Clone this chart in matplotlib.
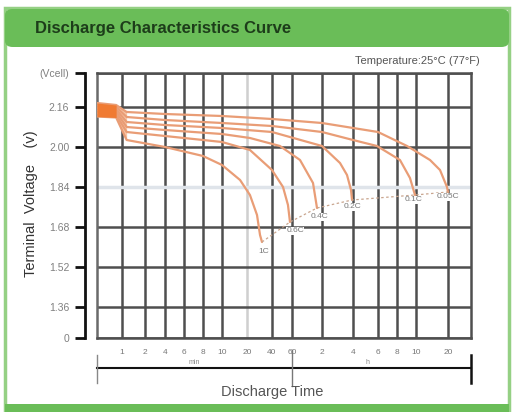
import numpy as np
import matplotlib
matplotlib.use("Agg")
import matplotlib.pyplot as plt
from matplotlib.patches import FancyBboxPatch, Rectangle
import matplotlib.transforms as mtransforms

plt.rcParams['font.family'] = ['Liberation Sans', 'DejaVu Sans']

# ---------------- data ----------------
title = "Discharge Characteristics Curve"
temperature_note = "Temperature:25\u00b0C (77\u00b0F)"
y_axis_label = "Terminal  Voltage    (v)"
x_axis_label = "Discharge Time"

# x ticks (minutes)
x_tick_times = [1, 2, 4, 6, 8, 10, 20, 40, 60, 120, 240, 360, 480, 600, 1200]
x_tick_labels = ["1", "2", "4", "6", "8", "10", "20", "40", "60",
                 "2", "4", "6", "8", "10", "20"]
unit_labels = ["min", "h"]

# y ticks (V per cell; bottom "0" is a broken-axis marker)
y_tick_values = [1.236, 1.36, 1.52, 1.68, 1.84, 2.00, 2.16, 2.296]
y_tick_labels = ["0", "1.36", "1.52", "1.68", "1.84", "2.00", "2.16", "(Vcell)"]

rate_labels = ["1C", "0.6C", "0.4C", "0.2C", "0.1C", "0.05C"]

t_1c = [0.5, 0.85, 1.15, 4, 8, 10, 16.5, 21.7, 26.4, 28.7, 30.3]
v_1c = [2.122, 2.118, 2.028, 2.000, 1.964, 1.928, 1.868, 1.808, 1.728, 1.648, 1.620]

t_06c = [0.5, 0.85, 1.15, 4, 10, 21.7, 40, 50, 55.3, 57.6]
v_06c = [2.135, 2.128, 2.060, 2.044, 2.020, 1.988, 1.908, 1.840, 1.768, 1.700]

t_04c = [0.5, 0.85, 1.15, 4, 10, 21.7, 47, 72.2, 97.5, 106.9]
v_04c = [2.146, 2.140, 2.080, 2.068, 2.052, 2.036, 2.004, 1.948, 1.856, 1.756]

t_02c = [0.5, 0.85, 1.15, 4, 10, 40, 120, 179.5, 209.9, 229.5, 235]
v_02c = [2.156, 2.150, 2.100, 2.088, 2.076, 2.060, 2.004, 1.936, 1.888, 1.828, 1.788]

t_01c = [0.5, 0.85, 1.15, 4, 10, 40, 120, 240, 354, 497, 559, 593]
v_01c = [2.166, 2.160, 2.120, 2.108, 2.096, 2.084, 2.060, 2.028, 2.004, 1.948, 1.876, 1.808]

t_005c = [0.5, 0.85, 1.15, 4, 10, 40, 120, 360, 540, 813, 1009, 1174, 1200]
v_005c = [2.176, 2.168, 2.140, 2.132, 2.124, 2.112, 2.096, 2.060, 2.004, 1.948, 1.908, 1.840, 1.820]

curves_t = [t_1c, t_06c, t_04c, t_02c, t_01c, t_005c]
curves_v = [v_1c, v_06c, v_04c, v_02c, v_01c, v_005c]

# ---------------- layout ----------------
W, H = 514, 412
fig = plt.figure(figsize=(W / 100, H / 100), dpi=100)
fig.patch.set_facecolor("white")

def fx(px):
    return px / W

def fy(py):
    return 1 - py / H

# hand-drawn ruler of the time axis (log time -> ruler position)
_ruler_t = np.log10([0.5] + x_tick_times + [2400])
_ruler_p = np.array([97, 122, 145, 165, 184, 203, 222, 247, 272, 292,
                     322, 353, 378, 397, 416, 448, 471], dtype=float)

def _interp_ext(x, xp, fp):
    x = np.asarray(x, dtype=float)
    y = np.interp(x, xp, fp)
    lo_slope = (fp[1] - fp[0]) / (xp[1] - xp[0])
    hi_slope = (fp[-1] - fp[-2]) / (xp[-1] - xp[-2])
    y = np.where(x < xp[0], fp[0] + (x - xp[0]) * lo_slope, y)
    y = np.where(x > xp[-1], fp[-1] + (x - xp[-1]) * hi_slope, y)
    return y

def fwd(t):
    t = np.asarray(t, dtype=float)
    lt = np.log10(np.clip(t, 1e-6, None))
    return _interp_ext(lt, _ruler_t, _ruler_p)

def inv(p):
    return 10 ** _interp_ext(p, _ruler_p, _ruler_t)

# frame: green border, header, bottom band
green = "#6abd58"
fig.patches.append(Rectangle((fx(5), fy(410)), fx(504), (402) / H,
                             transform=fig.transFigure, facecolor="none",
                             edgecolor="#95d084", lw=2.5, zorder=-1))
fig.patches.append(FancyBboxPatch((fx(5), fy(47)), fx(504), 38 / H,
                                  boxstyle="round,pad=0,rounding_size=0.015",
                                  transform=fig.transFigure, facecolor=green,
                                  edgecolor="none", zorder=-1))
fig.patches.append(Rectangle((fx(5), fy(412)), fx(504), 8 / H,
                             transform=fig.transFigure, facecolor=green,
                             edgecolor="none", zorder=-1))
fig.text(fx(35), fy(29), title, fontsize=12, fontweight="bold",
         color="#1d3d1a", va="center", ha="left", zorder=3)
fig.text(fx(480), fy(61), temperature_note, fontsize=8, color="#555555",
         va="center", ha="right")

ax = fig.add_axes([fx(97), fy(338), fx(471 - 97), (338 - 73) / H])
ax.set_zorder(2)
ax.patch.set_alpha(0)
ax.set_xscale("function", functions=(fwd, inv))
ax.set_xlim(0.5, 2400)
ax.set_ylim(y_tick_values[0], y_tick_values[-1])

grid_dark = "#4f4f4f"
for s in ("top", "right", "bottom"):
    ax.spines[s].set_color(grid_dark)
    ax.spines[s].set_linewidth(1.8)
ax.spines["left"].set_position(("outward", 9))
ax.spines["left"].set_color("#111111")
ax.spines["left"].set_linewidth(2)

ax.set_xticks(x_tick_times)
ax.set_xticklabels(x_tick_labels)
ax.xaxis.set_minor_locator(matplotlib.ticker.NullLocator())
ax.set_yticks(y_tick_values)
ax.set_yticklabels(y_tick_labels)
ax.tick_params(axis="x", length=0, pad=8, labelsize=6, labelcolor="#777777")
ax.tick_params(axis="y", length=7, width=2, color="#111111", pad=4,
               labelsize=7.5, labelcolor="#808080")
ax.grid(True, color=grid_dark, lw=1.8)
for i, gl in enumerate(ax.get_ygridlines()):
    if y_tick_labels[i] == "1.84":
        gl.set_color("#dfe4ea")
        gl.set_linewidth(2.5)
for i, gl in enumerate(ax.get_xgridlines()):
    if x_tick_times[i] == 20:
        gl.set_color("#cfcfcf")
for i, tk in enumerate(ax.yaxis.get_major_ticks()):
    if y_tick_labels[i] in ("1.84", "1.36", "(Vcell)"):
        tk.tick1line.set_color("#999999")

ax.axvline(0.5, color="#6a6a6a", lw=1.8, clip_on=False)
ax.set_axisbelow(True)

# curves
curve_color = "#e99d76"
# initial peak region
ax.fill_between(t_005c[:3], v_1c[:3], v_005c[:3], color="#f7c6a6", lw=0, zorder=2)
ax.fill_between(t_005c[:2], v_1c[:2], v_005c[:2], color="#f07a32", lw=0, zorder=4)
for t, v in zip(curves_t, curves_v):
    ax.plot(t, v, color=curve_color, lw=1.6, solid_capstyle="round", zorder=3)

# end-voltage dashed line and rate labels
end_t = [t[-1] for t in curves_t]
end_v = [v[-1] for v in curves_v]
ax.plot(end_t, end_v, color="#c9a58e", lw=0.9, ls=(0, (2, 2)), zorder=3)
label_dx = [1.06, 1.12, 1.05, 1.0, 0.98, 1.0]
label_dv = [-0.04, -0.035, -0.036, -0.028, -0.02, -0.02]
for lab, t, v, dx, dv in zip(rate_labels, end_t, end_v, label_dx, label_dv):
    ax.text(t * dx, v + dv, lab, fontsize=6, color="#777777", ha="center",
            va="center", zorder=5,
            bbox=dict(facecolor="white", edgecolor="none", pad=0.3))

# axis titles
fig.text(fx(31), fy(204), y_axis_label, rotation=90, fontsize=10.5,
         color="#333333", ha="center", va="center")
fig.text(fx(272), fy(392), x_axis_label, fontsize=10.5, color="#555555",
         ha="center", va="center")

# bracket below the time axis (min | h)
trans = mtransforms.blended_transform_factory(ax.transData, ax.transAxes)
yb = -(368 - 338) / (338 - 73)
ycap0 = -(355 - 338) / (338 - 73)
ycap1 = -(383 - 338) / (338 - 73)
ax.plot([0.5, 2400], [yb, yb], color="#111111", lw=1.5, transform=trans, clip_on=False)
ax.plot([0.5, 0.5], [ycap0, ycap1], color="#888888", lw=1.0, transform=trans, clip_on=False)
ax.plot([60, 60], [-(350 - 338) / 265, -(386 - 338) / 265], color="#777777", lw=1.0,
        transform=trans, clip_on=False)
ax.plot([2400, 2400], [ycap0, ycap1], color="#111111", lw=1.8, transform=trans, clip_on=False)
mid_min = inv((fwd(0.5) + fwd(60)) / 2)
mid_h = inv((fwd(60) + fwd(2400)) / 2)
ax.text(mid_min, -(362 - 338) / 265, unit_labels[0], transform=trans, fontsize=5,
        color="#888888", ha="center", va="center")
ax.text(mid_h * 0.8, -(362 - 338) / 265, unit_labels[1], transform=trans, fontsize=5,
        color="#888888", ha="center", va="center")

fig.savefig("out.png", dpi=100)
